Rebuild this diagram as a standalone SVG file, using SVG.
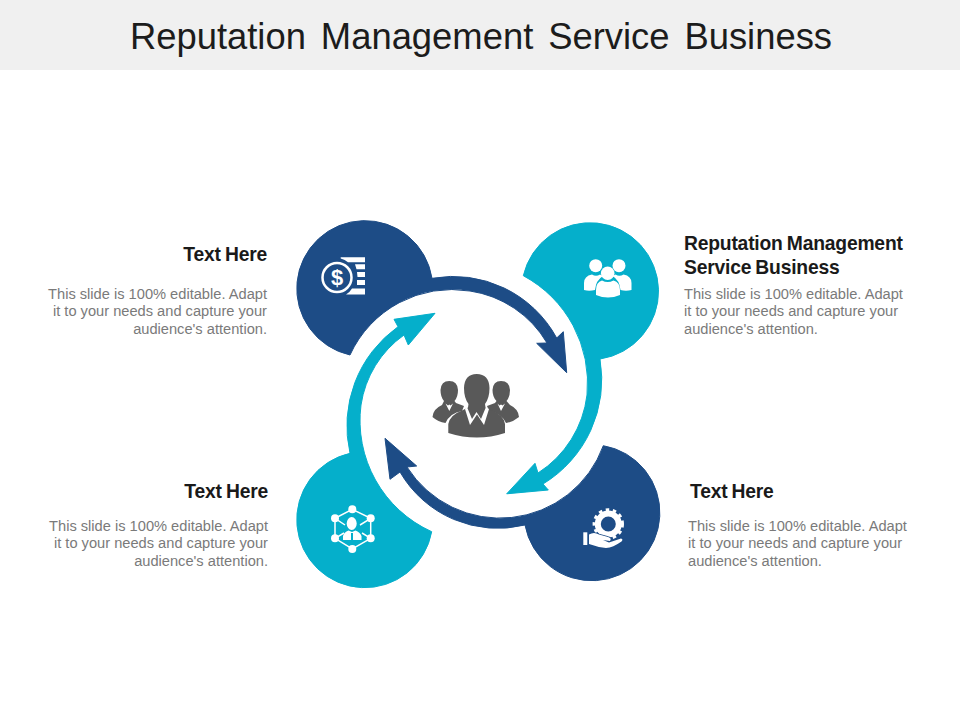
<svg xmlns="http://www.w3.org/2000/svg" width="960" height="720" viewBox="0 0 960 720">
<style>
text{font-family:"Liberation Sans",Arial,sans-serif}
.title{font-size:36.400px;fill:#1c1c1c;word-spacing:4.800px}
.h{font-size:19.300px;font-weight:700;fill:#1a1a1a;word-spacing:-1px;letter-spacing:-.2px}
.b{font-size:14.650px;fill:#7a7a7a}
.e{text-anchor:end}
.navy{fill:#1d4c86;stroke:#1d4c86;stroke-width:1;stroke-linejoin:round}
.teal{fill:#05afcb;stroke:#05afcb;stroke-width:1;stroke-linejoin:round}
.w{fill:#fff}
.g{fill:#595959}
</style>
<rect width="960" height="70" fill="#f0f0f0"/>
<text class="title" x="481" y="49" text-anchor="middle">Reputation Management Service Business</text>
<g id="connectors">
<path id="arc-top" class="navy" d="M350 355A68 68 0 1 1 432 278.300A118 118 0 0 1 556.700 338L563.300 331.700L566.700 372.700L536.700 343.300L547 343A108 108 0 0 0 470 291A112 112 0 0 0 350 355Z"/>
<path id="arc-right" class="teal" d="M523.300 275.700A68.500 68.500 0 1 1 600 359A122 122 0 0 1 543 484L548.300 490L506.700 493.800L535 463.300L538 473A108 108 0 0 0 587 395A122 122 0 0 0 523.300 275.700Z"/>
<path id="arc-bottom" class="navy" d="M603.300 445.700A68 68 0 1 1 525 525A113 113 0 0 1 400 472L390 479.300L385 438.300L416.700 466L407 467A110 110 0 0 0 603.300 445.700Z"/>
<path id="arc-left" class="teal" d="M431.700 531.700A68 68 0 1 1 350 453.300A122 122 0 0 1 398 326.700L394 319.300L435 313.300L408.300 345L404 335A105 105 0 0 0 361 405A122 122 0 0 0 431.700 531.700Z"/>
</g>
<g id="node-coins">
<circle cx="337" cy="277.500" r="14.500" fill="none" stroke="#fff" stroke-width="2.500"/>
<text x="337" y="285" text-anchor="middle" font-size="22" font-weight="700" fill="#fff">$</text>
<path class="w" d="M340.700 257.300H365V262.300H348Q345 259.500 340.700 258.500ZM355 264.300H365V269.300H356.500ZM357 272H365V277H357.500ZM357 280H365V285H357ZM352 288.500H365V294.500H346Q350 292 352 288.500Z"/>
</g>
<g id="node-people">
<circle class="w" cx="595.700" cy="265.700" r="6.500"/>
<circle class="w" cx="619" cy="265.700" r="6.500"/>
<path class="w" d="M584 290V283Q584 276 592 274.500Q596 277 600 274.500L603 276Q596 280 595 290Q589 291.500 584 290ZM631.500 290V283Q631.500 276 623.500 274.500Q619.500 277 615.500 274.500L612.500 276Q619.500 280 620.500 290Q626 291.500 631.500 290Z"/>
<circle class="w" cx="607.700" cy="273.300" r="6.800"/>
<path class="w" d="M596 295V290Q596 282 602 280.500Q607.700 283.500 613.500 280.500Q620 282 620 290V295Q608 300 596 295Z"/>
</g>
<g id="node-network" fill="none" stroke="#fff" stroke-width="1.500">
<path d="M352.300 509.300L370.700 518.300V538.300L352.300 549L335 538.300V518.300ZM335 518.300L345 525M370.700 518.300L360 525M335 538.300L344 533M370.700 538.300L362 533"/>
<g fill="#fff" stroke="none">
<circle cx="352.300" cy="509.300" r="4"/><circle cx="335" cy="518.300" r="4"/><circle cx="370.700" cy="518.300" r="4"/><circle cx="335" cy="538.300" r="4"/><circle cx="370.700" cy="538.300" r="4"/><circle cx="352.300" cy="549" r="4"/>
<ellipse cx="351.700" cy="523.500" rx="5" ry="6.500"/>
<path d="M343 540V536Q344 532 348.500 530.500L352 532L355.500 530.500Q360 532 361.500 536V540Z"/>
</g>
<path d="M352 533V540" stroke="#05afcb" stroke-width="2"/>
</g>
<g id="node-gear">
<circle cx="608.300" cy="524" r="10.500" fill="none" stroke="#fff" stroke-width="6"/>
<circle cx="608.300" cy="524" r="14.200" fill="none" stroke="#fff" stroke-width="3" stroke-dasharray="3.500 3.600"/>
<path class="w" stroke="#1d4c86" stroke-width="1.500" paint-order="stroke" d="M589 534.500Q594 531.500 599 534.500L608 537Q612 538 610 541L603 540L609 542.500L621 538.500Q623.500 539 621.500 541.500Q613 547.500 606 548Q597 547 589 544Z"/>
<path class="w" d="M583.300 532.300H587.300V545H583.300Z"/>
</g>
<g id="node-center">
<path class="g" d="M449.300 381Q457.500 381 458 390Q458 397 454.500 401L456 403L464 406L462 411Q450 413 445.500 423Q438 422 432.500 417Q433 409 442 405L444 401Q440.500 397 440.500 390Q441 381 449.300 381Z"/>
<path class="g" d="M501 381Q509.500 381 510 390Q510 397 506.500 401L510 405Q518.500 409 519 417Q513 422 506 423Q501 413 489 411L487 406L495 403L496.500 401Q492.500 397 492.500 390Q493 381 501 381Z"/>
<path class="w" d="M445.500 403.500L449.300 411L453 403.500L450.500 405.500L449.300 404.500L448 405.500ZM497.500 403.500L501 411L505 403.500L502.500 405.500L501 404.500L499.500 405.500Z"/>
<path class="g" d="M476.700 374Q489 374 489.500 388Q489.500 398 485 404L485.500 407.500L493 411Q503.500 415 505 424V433Q477 442 448.300 433V424Q450 415 461 411L468 407.500L468.500 404Q464 398 464 388Q464.500 374 476.700 374Z"/>
<path class="w" d="M467 407L472 419L476.500 412L481 419L486 407L489 409L484 425L477 414.500L470 425L465 409Z"/>
</g>
<g id="text-top-left">
<text class="h e" x="267" y="261">Text Here</text>
<text class="b e" x="267" y="298.500">This slide is 100% editable. Adapt</text>
<text class="b e" x="267" y="316">it to your needs and capture your</text>
<text class="b e" x="267" y="333.500">audience's attention.</text>
</g>
<g id="text-top-right">
<text class="h" x="684" y="250">Reputation Management</text>
<text class="h" x="684" y="273.500">Service Business</text>
<text class="b" x="684" y="298.500">This slide is 100% editable. Adapt</text>
<text class="b" x="684" y="316">it to your needs and capture your</text>
<text class="b" x="684" y="333.500">audience's attention.</text>
</g>
<g id="text-bottom-left">
<text class="h e" x="268" y="498">Text Here</text>
<text class="b e" x="268" y="530.500">This slide is 100% editable. Adapt</text>
<text class="b e" x="268" y="548">it to your needs and capture your</text>
<text class="b e" x="268" y="565.500">audience's attention.</text>
</g>
<g id="text-bottom-right">
<text class="h" x="690" y="498">Text Here</text>
<text class="b" x="688" y="530.500">This slide is 100% editable. Adapt</text>
<text class="b" x="688" y="548">it to your needs and capture your</text>
<text class="b" x="688" y="565.500">audience's attention.</text>
</g>
</svg>
